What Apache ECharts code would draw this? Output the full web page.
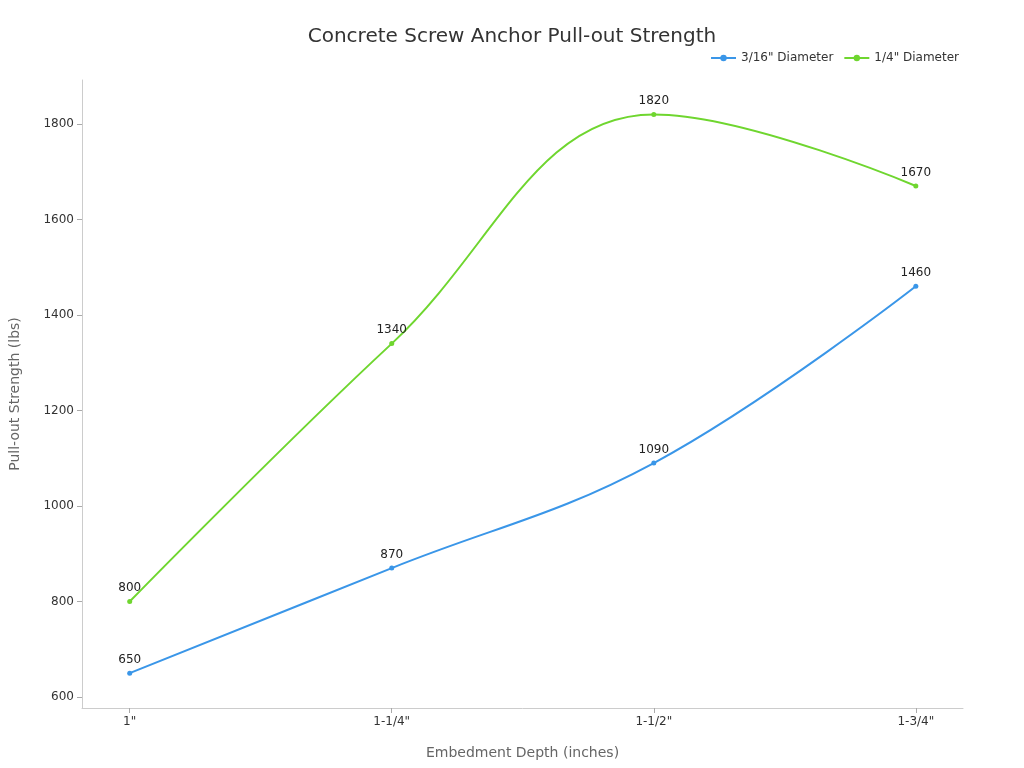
<!DOCTYPE html>
<html>
<head>
<meta charset="utf-8" />
<title>Concrete Screw Anchor Pull-out Strength</title>
<script src="https://cdn.jsdelivr.net/npm/echarts@6/dist/echarts.min.js"></script>
<style>
html, body { margin: 0; height: 100%; }
#main { width: 1024px; height: 768px; }
</style>
</head>
<body>
<div id="main"></div>
<script>
var depths = ['1"', '1-1/4"', '1-1/2"', '1-3/4"'];
var dia316 = [650, 870, 1090, 1460];
var dia14 = [800, 1340, 1820, 1670];
var yTicks = [600, 800, 1000, 1200, 1400, 1600, 1800];

function pts(arr) {
    return arr.map(function (v, i) { return [i, v]; });
}

var chart = echarts.init(document.getElementById('main'));
chart.setOption({
    textStyle: { fontFamily: 'DejaVu Sans' },
    title: {
        text: 'Concrete Screw Anchor Pull-out Strength',
        left: 'center', top: 22,
        textStyle: { fontSize: 20, fontWeight: 'normal', color: '#333' }
    },
    legend: {
        top: 47, right: 60, itemWidth: 25, itemHeight: 8, itemGap: 10,
        textStyle: { fontSize: 12, color: '#333' }
    },
    grid: { left: 76, right: 61, top: 80, bottom: 60 },
    xAxis: {
        type: 'value', min: -0.182, max: 3.18,
        name: 'Embedment Depth (inches)', nameLocation: 'middle', nameGap: 38,
        nameTextStyle: { fontSize: 14, color: '#666' },
        splitLine: { show: false },
        axisLine: { onZero: false, lineStyle: { color: '#ccc' } },
        axisTick: { customValues: [0, 1, 2, 3], lineStyle: { color: '#aaa' } },
        axisLabel: {
            customValues: [0, 1, 2, 3], color: '#333', fontSize: 12,
            formatter: function (v) { return depths[Math.round(v)]; }
        }
    },
    yAxis: {
        type: 'value', min: 577, max: 1892,
        name: 'Pull-out Strength (lbs)', nameLocation: 'middle', nameGap: 60,
        nameTextStyle: { fontSize: 14, color: '#666' },
        splitLine: { show: false },
        axisLine: { show: true, onZero: false, lineStyle: { color: '#ccc' } },
        axisTick: { show: true, customValues: yTicks, lineStyle: { color: '#aaa' } },
        axisLabel: { customValues: yTicks, color: '#333', fontSize: 12,
            formatter: function (v) { return String(v); } }
    },
    series: [
        {
            name: '3/16" Diameter', type: 'line', smooth: 0.4,
            data: pts(dia316), symbol: 'circle', symbolSize: 5,
            itemStyle: { color: '#3a96e8' }, lineStyle: { width: 2 },
            label: { show: true, position: 'top', color: '#222', fontSize: 12,
                formatter: function (p) { return p.value[1]; } }
        },
        {
            name: '1/4" Diameter', type: 'line', smooth: 0.4,
            data: pts(dia14), symbol: 'circle', symbolSize: 5,
            itemStyle: { color: '#6fd62f' }, lineStyle: { width: 2 },
            label: { show: true, position: 'top', color: '#222', fontSize: 12,
                formatter: function (p) { return p.value[1]; } }
        }
    ]
});
</script>
</body>
</html>
